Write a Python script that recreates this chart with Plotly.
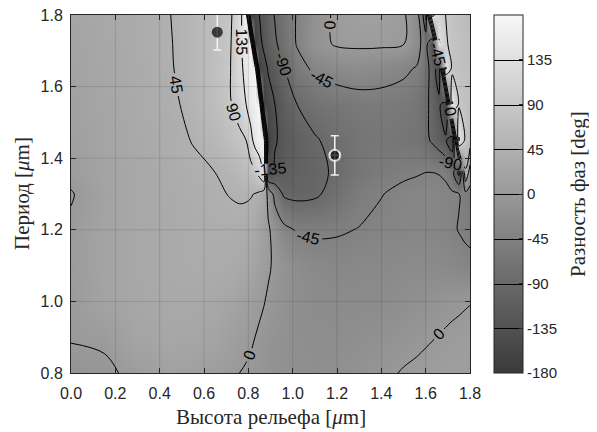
import plotly.graph_objects as go

# grid of the relief-height axis (um) and period axis (um)
height_um = [0, 0.15, 0.3, 0.45, 0.55, 0.65, 0.72, 0.76, 0.79, 0.81, 0.83, 0.85, 0.87, 0.89,
             0.92, 0.96, 1.02, 1.1, 1.2, 1.3, 1.4, 1.5,
             1.56, 1.6, 1.63, 1.66, 1.69, 1.72, 1.75, 1.78, 1.8]
period_um = [0.8, 0.9, 1.0, 1.1, 1.2, 1.3, 1.36, 1.45, 1.55, 1.65, 1.72, 1.8]

# phase difference (deg), one row per period value
phase_p080 = [-10, -6, 8, 15, 14, 8, 3, 0, -2, -4, -5, -7, -9, -11,
              -13, -15, -18, -20, -18, -14, -6, 2,
              5, 7, 8, 9, 10, 10, 10, 10, 10]
phase_p090 = [2, 5, 22, 26, 25, 20, 12, 8, 5, 3, 0, -3, -6, -9,
              -12, -15, -20, -22, -22, -20, -16, -10,
              -6, -3, -1, 1, 3, 5, 6, 7, 8]
phase_p100 = [4, 18, 27, 30, 30, 28, 22, 17, 13, 10, 7, 4, 1, -3,
              -8, -13, -20, -25, -27, -26, -24, -20,
              -17, -14, -12, -10, -8, -6, -4, -2, -1]
phase_p110 = [5, 20, 28, 32, 34, 35, 33, 30, 27, 23, 19, 14, 8, 3,
              -4, -12, -22, -30, -33, -32, -30, -28,
              -27, -27, -28, -29, -30, -32, -35, -37, -38]
phase_p120 = [4, 20, 28, 32, 35, 38, 38, 37, 35, 32, 27, 20, 12, 4,
              -12, -35, -48, -50, -48, -44, -38, -36,
              -35, -35, -36, -37, -39, -42, -46, -50, -52]
phase_p130 = [-2, 18, 28, 33, 38, 42, 46, 48, 48, 47, 44, 38, 25, -10,
              -60, -95, -100, -96, -75, -55, -46, -38,
              -36, -35, -36, -37, -38, -40, -44, -55, -60]
phase_p136 = [8, 20, 28, 35, 40, 45, 52, 58, 64, 72, 85, 105, 140, -150,
              -125, -112, -105, -98, -85, -66, -56, -50,
              -47, -45, -45, -46, -50, -75, -150, 40, -20]
phase_p145 = [12, 22, 30, 38, 46, 58, 72, 80, 90, 120, 150, 165, 172, -165,
              -140, -120, -108, -93, -80, -70, -65, -68,
              -72, -82, -95, -110, -130, -168, 140, 80, 65]
phase_p155 = [15, 24, 32, 40, 52, 68, 88, 108, 135, 155, 165, 172, -165, -150,
              -135, -112, -90, -75, -66, -60, -58, -62,
              -68, -82, -100, -125, -165, 140, 85, 75, 70]
phase_p165 = [18, 26, 33, 43, 57, 72, 90, 120, 150, 165, 172, -165, -148, -132,
              -115, -92, -60, -38, -28, -24, -30, -38,
              -48, -75, -105, -160, 140, 80, 75, 72, 70]
phase_p172 = [20, 27, 34, 44, 56, 70, 88, 125, 155, 172, -165, -145, -128, -112,
              -95, -75, -42, -12, 4, 6, 6, 2,
              -25, -70, -140, 140, 95, 80, 75, 70, 68]
phase_p180 = [22, 28, 35, 45, 55, 68, 85, 120, 165, -168, -155, -135, -120, -105,
              -88, -70, -42, -15, 6, 12, 12, 5,
              -25, -120, 150, 110, 90, 80, 72, 66, 62]

phase_rows = [phase_p080, phase_p090, phase_p100, phase_p110, phase_p120, phase_p130,
              phase_p136, phase_p145, phase_p155, phase_p165, phase_p172, phase_p180]
for r in phase_rows:
    assert len(r) == len(height_um)

# measured points with error bars
meas_h = [0.66, 1.19]
meas_p = [1.752, 1.408]
meas_err_p = [0.05, 0.055]
meas_err_h = [0.0, 0.02]

x_ticks = [0.0, 0.2, 0.4, 0.6, 0.8, 1.0, 1.2, 1.4, 1.6, 1.8]
y_ticks = [0.8, 1.0, 1.2, 1.4, 1.6, 1.8]
cb_ticks = [-180, -135, -90, -45, 0, 45, 90, 135]

axis_col = '#262626'
sans = 'Liberation Sans, Arial, sans-serif'
serif = 'Liberation Serif, Times New Roman, serif'

# the page body has an 8 px margin; the figure is sized to fit the window
W, H = 589, 424
ML, MR, MT, MB = 63, 127, 7, 59

fig = go.Figure()
fig.add_trace(go.Contour(
    x=height_um, y=period_um, z=phase_rows,
    zmin=-180, zmax=180,
    colorscale=[[0, '#3a3a3a'], [1, '#f8f8f8']],
    contours=dict(start=-135, end=135, size=45, coloring='heatmap',
                  showlabels=True,
                  labelfont=dict(family=sans, size=16, color='black')),
    line=dict(color='black', width=1, smoothing=1),
    colorbar=dict(
        x=1.0602, xanchor='left', xpad=0, thickness=29,
        y=0.5, yanchor='middle', len=1.0, lenmode='fraction', ypad=0,
        outlinecolor=axis_col, outlinewidth=1,
        ticks='inside', ticklen=4, tickcolor=axis_col,
        tickvals=cb_ticks, ticktext=[str(v) for v in cb_ticks],
        tickfont=dict(family=sans, size=15, color=axis_col),
    ),
    hoverinfo='skip',
))

fig.add_trace(go.Scatter(
    x=meas_h, y=meas_p, mode='markers',
    marker=dict(color='black', size=[11, 11],
                line=dict(color='white', width=[0, 2])),
    error_y=dict(type='data', array=meas_err_p, color='#f4f4f4', thickness=1.5, width=4),
    error_x=dict(type='data', array=meas_err_h, color='#f4f4f4', thickness=1.5, width=3),
    showlegend=False, hoverinfo='skip',
))

shapes = []
for xv in x_ticks[1:-1]:
    shapes.append(dict(type='line', xref='x', yref='paper', x0=xv, x1=xv, y0=0, y1=1,
                       line=dict(color='rgba(38,38,38,0.15)', width=1), layer='above'))
for yv in y_ticks[1:-1]:
    shapes.append(dict(type='line', xref='paper', yref='y', x0=0, x1=1, y0=yv, y1=yv,
                       line=dict(color='rgba(38,38,38,0.15)', width=1), layer='above'))

pw = W - ML - MR
ph = H - MT - MB
annotations = [
    dict(text='Высота рельефа [<i>μ</i>m]', xref='paper', yref='paper',
         x=0.5, y=-(409 - (H - MB)) / ph, xanchor='center', yanchor='middle',
         showarrow=False, font=dict(family=serif, size=21, color=axis_col)),
    dict(text='Период [<i>μ</i>m]', xref='paper', yref='paper',
         x=(14 - ML) / pw, y=0.5, xanchor='center', yanchor='middle', textangle=-90,
         showarrow=False, font=dict(family=serif, size=21, color=axis_col)),
    dict(text='Разность фаз [deg]', xref='paper', yref='paper',
         x=(570 - ML) / pw, y=0.5, xanchor='center', yanchor='middle', textangle=-90,
         showarrow=False, font=dict(family=serif, size=21, color=axis_col)),
]

fig.update_layout(
    width=W, height=H,
    margin=dict(l=ML, r=MR, t=MT, b=MB, autoexpand=False),
    paper_bgcolor='white', plot_bgcolor='white',
    showlegend=False,
    shapes=shapes, annotations=annotations,
    xaxis=dict(range=[0, 1.8], tickvals=x_ticks, tickformat='.1f',
               ticks='inside', ticklen=5, tickcolor=axis_col,
               showline=True, linecolor=axis_col, linewidth=1, mirror='ticks',
               showgrid=False, zeroline=False, automargin=False,
               ticklabelstandoff=6, ticklabeloverflow='allow',
               tickfont=dict(family=sans, size=16, color=axis_col)),
    yaxis=dict(range=[0.8, 1.8], tickvals=y_ticks, tickformat='.1f',
               ticks='inside', ticklen=5, tickcolor=axis_col,
               showline=True, linecolor=axis_col, linewidth=1, mirror='ticks',
               showgrid=False, zeroline=False, automargin=False,
               ticklabelstandoff=4, ticklabeloverflow='allow',
               tickfont=dict(family=sans, size=16, color=axis_col)),
)

fig.write_html('out.html')
